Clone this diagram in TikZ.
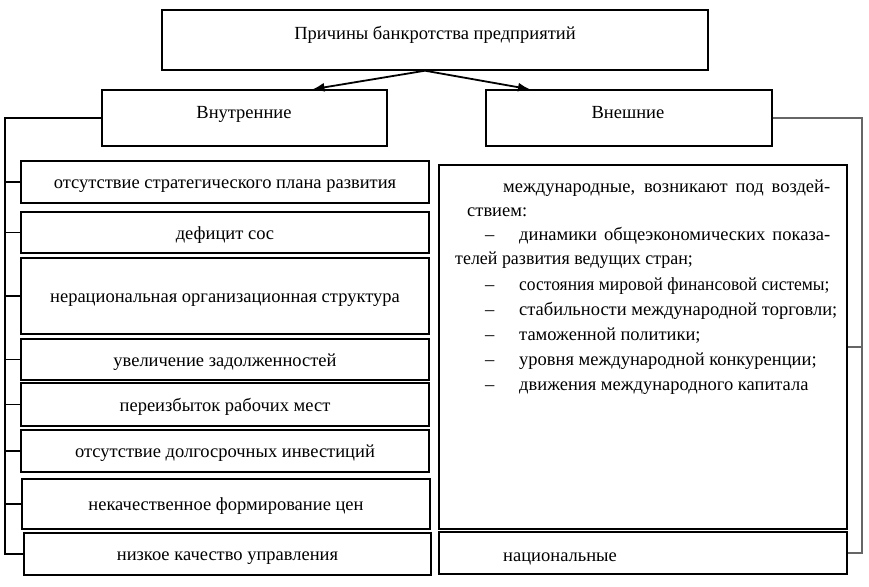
\documentclass[tikz,border=0pt]{standalone}
\usepackage{fontspec}
\setmainfont{Liberation Serif}
\usepackage{tikz}
\usetikzlibrary{arrows.meta}

\begin{document}
\begin{tikzpicture}[x=1pt, y=-1pt,
        font=\fontsize{18.5}{22}\selectfont,
        box/.style={rectangle, draw, line width=1.4pt, inner sep=0pt, text height=17pt, text depth=4pt},
        txt/.style={inner sep=0pt, text height=17pt, text depth=4pt},
        link/.style={line width=1.2pt},
        arr/.style={-{Latex[length=12pt, width=9pt]}, line width=1.8pt}]
        \useasboundingbox (0,0) rectangle (869,586);
        % top level
        \node (top) at (435,40) [box, minimum width=546, minimum height=60] {};
        \node (toptxt) at (435,33) [txt] {Причины банкротства предприятий};
        \node (inner) at (244.5,118) [box, minimum width=285, minimum height=56] {};
        \node (innertxt) at (244,112) [txt] {Внутренние};
        \node (outer) at (629,118) [box, minimum width=286, minimum height=56] {};
        \node (outertxt) at (628,112) [txt] {Внешние};
        \draw [arr] ([xshift=-10]top.south) -- ([xshift=68]inner.north);
        \draw [arr] ([xshift=-10]top.south) -- ([xshift=-99]outer.north);
        % internal causes
        \node (b1) at (225,182) [box, minimum width=408, minimum height=42] {отсутствие стратегического плана развития};
        \node (b2) at (225,232.5) [box, minimum width=408, minimum height=41] {дефицит сос};
        \node (b3) at (225,296) [box, minimum width=408, minimum height=76] {нерациональная организационная структура};
        \node (b4) at (225,359.5) [box, minimum width=408, minimum height=41] {увеличение задолженностей};
        \node (b5) at (225,404.5) [box, minimum width=408, minimum height=43] {переизбыток рабочих мест};
        \node (b6) at (225,451) [box, minimum width=408, minimum height=42] {отсутствие долгосрочных инвестиций};
        \node (b7) at (226,504) [box, minimum width=408, minimum height=50] {некачественное формирование цен};
        \node (b8) at (227.5,554) [box, minimum width=407, minimum height=42] {низкое качество управления};
        \coordinate (lbus) at (5,118);
        \draw [link] (inner.west) -- (lbus) |- (b8.west);
        \foreach \b in {b1,b2,b3,b4,b5,b6,b7}
            \draw [link] (lbus |- \b.west) -- (\b.west);
        % external causes
        \node (intl) at (643,347) [box, minimum width=408, minimum height=364] {};
        \node (l1) at (503,186) [txt, anchor=west] {\makebox[327pt][s]{международные, возникают под воздей-}};
        \node (l2) at (467,210) [txt, anchor=west] {ствием:};
        \node (d0) at (485,234) [txt, anchor=west] {–};
        \node (l3) at (519,234) [txt, anchor=west] {\makebox[311pt][s]{динамики общеэкономических показа-}};
        \node (l4) at (455,258) [txt, anchor=west] {\scalebox{0.97}[1]{телей развития ведущих стран;}};
        \foreach \t [count=\i] in {\scalebox{0.945}[1]{состояния мировой финансовой системы;}, стабильности международной торговли;, таможенной политики;, уровня международной конкуренции;, движения международного капитала}
        {
            \node (d\i) at (485,{259+25*\i}) [txt, anchor=west] {–};
            \node (item\i) at (519,{259+25*\i}) [txt, anchor=west] {\t};
        }
        \node (nat) at (643,553) [box, minimum width=408, minimum height=42] {};
        \node (nattxt) at (503,555) [txt, anchor=west] {национальные};
        \coordinate (rbus) at (862,118);
        \draw [link, black!60] (outer.east) -- (rbus) |- (nat.east);
        \draw [link, black!60] (rbus |- intl.east) -- (intl.east);
\end{tikzpicture}
\end{document}
